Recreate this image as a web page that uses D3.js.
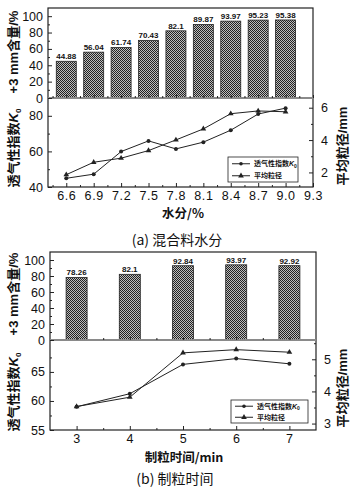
<!DOCTYPE html>
<html><head><meta charset="utf-8">
<script src="https://cdn.jsdelivr.net/npm/d3@7/dist/d3.min.js"></script>
<style>
html,body{margin:0;padding:0;background:#fff;}
svg{display:block;}
</style></head>
<body>
<svg id="c" width="359" height="488"></svg>
<script>
// ---- data ----
const moisture = [6.6, 6.9, 7.2, 7.5, 7.8, 8.1, 8.4, 8.7, 9.0];
const moistureContent = [44.88, 56.04, 61.74, 70.43, 82.1, 89.87, 93.97, 95.23, 95.38];
const moistureK = [44.9, 47.2, 59.9, 65.9, 61.4, 65.2, 71.9, 81.0, 84.3];
const moistureSize = [1.86, 2.63, 2.88, 3.35, 4.01, 4.69, 5.63, 5.80, 5.75];

const granTime = [3, 4, 5, 6, 7];
const timeContent = [78.26, 82.1, 92.84, 93.97, 92.92];
const timeK = [59.0, 61.25, 66.3, 67.3, 66.4];
const timeSize = [3.53, 3.82, 5.2, 5.3, 5.22];

const moistureTicks = [6.6, 6.9, 7.2, 7.5, 7.8, 8.1, 8.4, 8.7, 9.0, 9.3];
const timeTicks = [3, 4, 5, 6, 7];
const contentTicks = [0, 20, 40, 60, 80, 100];

const svg = d3.select("#c");
const CJK = "'Noto Sans CJK SC', sans-serif";
const LAT = "'Liberation Sans', Arial, sans-serif";

// hatch pattern
const defs = svg.append("defs");
const pat = defs.append("pattern").attr("id","hatch").attr("patternUnits","userSpaceOnUse")
  .attr("width",2).attr("height",2);
pat.append("rect").attr("width",2).attr("height",2).attr("fill","#bdbdbd");
pat.append("rect").attr("x",0).attr("y",0).attr("width",1).attr("height",1).attr("fill","#222");
pat.append("rect").attr("x",1).attr("y",1).attr("width",1).attr("height",1).attr("fill","#222");

function styleAxis(g, size){
  g.selectAll("path.domain").remove();
  g.selectAll("line").attr("stroke","#222").attr("stroke-width",1);
  g.selectAll("text").attr("font-family",LAT).attr("font-size",size||12.5).attr("fill","#111");
}

function panel(o){
  const g = svg.append("g");
  const x = d3.scaleLinear().domain(o.xDomain).range([o.left, o.right]);
  const yb = d3.scaleLinear().domain([0,110]).range([o.mid, o.top]);
  const yl = d3.scaleLinear().domain(o.kDomain).range([o.bottom, o.mid]);
  const yr = d3.scaleLinear().domain(o.sDomain).range([o.bottom, o.mid]);

  // bars
  g.selectAll("rect.bar").data(o.xs).enter().append("rect")
    .attr("x", (d)=>x(d)-o.barW/2).attr("width",o.barW)
    .attr("y",(d,i)=>yb(o.content[i])).attr("height",(d,i)=>yb(0)-yb(o.content[i]))
    .attr("fill","url(#hatch)").attr("stroke","#222").attr("stroke-width",0.8);
  g.selectAll("text.bl").data(o.xs).enter().append("text")
    .attr("x",d=>x(d)).attr("y",(d,i)=>yb(o.content[i])-2)
    .attr("text-anchor","middle").attr("font-family",LAT).attr("font-size",8).attr("font-weight","bold")
    .attr("fill","#111").text((d,i)=>String(o.content[i]));

  // frame
  g.append("rect").attr("x",o.left).attr("y",o.top).attr("width",o.right-o.left).attr("height",o.bottom-o.top)
    .attr("fill","none").attr("stroke","#222").attr("stroke-width",1.2);
  g.append("line").attr("x1",o.left).attr("x2",o.right).attr("y1",o.mid).attr("y2",o.mid)
    .attr("stroke","#8a8a8a").attr("stroke-width",2);

  // bar y axis
  const a1 = g.append("g").attr("transform",`translate(${o.left},0)`)
    .call(d3.axisLeft(yb).tickValues(contentTicks).tickSize(-4).tickPadding(5));
  styleAxis(a1, 12.5);
  const a1m = g.append("g").attr("transform",`translate(${o.left},0)`)
    .call(d3.axisLeft(yb).tickValues([10,30,50,70,90]).tickSize(-2).tickFormat(""));
  styleAxis(a1m);

  // ticks at zero line
  const a0 = g.append("g").attr("transform",`translate(0,${o.mid})`)
    .call(d3.axisBottom(x).tickValues(o.xTicks).tickSize(-3).tickFormat(""));
  styleAxis(a0);
  const a0m = g.append("g").attr("transform",`translate(0,${o.mid})`)
    .call(d3.axisBottom(x).tickValues(o.xMinor).tickSize(-2).tickFormat(""));
  styleAxis(a0m);

  // lower axes
  const ax = g.append("g").attr("transform",`translate(0,${o.bottom})`)
    .call(d3.axisBottom(x).tickValues(o.xTicks).tickSize(-4).tickPadding(4).tickFormat(o.xFmt));
  styleAxis(ax, 12.5);
  ax.selectAll("text").attr("letter-spacing",0.6);
  const axm = g.append("g").attr("transform",`translate(0,${o.bottom})`)
    .call(d3.axisBottom(x).tickValues(o.xMinor).tickSize(-2).tickFormat(""));
  styleAxis(axm);

  const al = g.append("g").attr("transform",`translate(${o.left},0)`)
    .call(d3.axisLeft(yl).tickValues(o.kTicks).tickSize(-4).tickPadding(5));
  styleAxis(al, 12.5);
  const alm = g.append("g").attr("transform",`translate(${o.left},0)`)
    .call(d3.axisLeft(yl).tickValues(o.kMinor).tickSize(-2).tickFormat(""));
  styleAxis(alm);

  const ar = g.append("g").attr("transform",`translate(${o.right},0)`)
    .call(d3.axisRight(yr).tickValues(o.sTicks).tickSize(-4).tickPadding(8).tickFormat(d3.format("d")));
  styleAxis(ar, 12.5);
  const arm = g.append("g").attr("transform",`translate(${o.right},0)`)
    .call(d3.axisRight(yr).tickValues(o.sMinor).tickSize(-2).tickFormat(""));
  styleAxis(arm);

  // lines
  const lk = d3.line().x((d,i)=>x(o.xs[i])).y(d=>yl(d));
  const ls = d3.line().x((d,i)=>x(o.xs[i])).y(d=>yr(d));
  g.append("path").attr("d",lk(o.k)).attr("fill","none").attr("stroke","#222").attr("stroke-width",1);
  g.append("path").attr("d",ls(o.size)).attr("fill","none").attr("stroke","#222").attr("stroke-width",1);
  g.selectAll("circle.k").data(o.k).enter().append("circle")
    .attr("cx",(d,i)=>x(o.xs[i])).attr("cy",d=>yl(d)).attr("r",2).attr("fill","#222");
  const tri = d3.symbol().type(d3.symbolTriangle).size(14);
  g.selectAll("path.s").data(o.size).enter().append("path")
    .attr("d",tri).attr("transform",(d,i)=>`translate(${x(o.xs[i])},${yr(d)})`).attr("fill","#222");

  // legend
  const L = o.legend;
  g.append("rect").attr("x",L.x).attr("y",L.y).attr("width",L.w).attr("height",L.h)
    .attr("fill","#fff").attr("stroke","#222").attr("stroke-width",0.8);
  const r1 = L.y + L.h*0.27, r2 = L.y + L.h*0.75;
  g.append("line").attr("x1",L.x+4).attr("x2",L.x+22).attr("y1",r1).attr("y2",r1).attr("stroke","#222");
  g.append("circle").attr("cx",L.x+13).attr("cy",r1).attr("r",1.8).attr("fill","#222");
  g.append("line").attr("x1",L.x+4).attr("x2",L.x+22).attr("y1",r2).attr("y2",r2).attr("stroke","#222");
  g.append("path").attr("d",tri).attr("transform",`translate(${L.x+13},${r2})`).attr("fill","#222");
  const t1 = g.append("text").attr("x",L.x+26).attr("y",r1+2.5).attr("font-family",CJK)
    .attr("font-size",7).attr("font-weight","bold").attr("fill","#111").text("透气性指数");
  t1.append("tspan").attr("font-style","italic").attr("font-family",LAT).text("K");
  t1.append("tspan").attr("font-size",5).attr("dy",1.5).attr("font-family",LAT).text("0");
  g.append("text").attr("x",L.x+26).attr("y",r2+2.5).attr("font-family",CJK)
    .attr("font-size",7).attr("font-weight","bold").attr("fill","#111").text("平均粒径");

  // axis titles
  function vtext(xx, yy, parts){
    const t = g.append("text").attr("transform",`translate(${xx},${yy}) rotate(-90)`)
      .attr("text-anchor","middle").attr("font-family",CJK).attr("font-size",13)
      .attr("font-weight","bold").attr("fill","#111");
    parts.forEach(p=>{
      const s = t.append("tspan").text(p.t);
      if(p.f) s.attr("font-family",p.f);
      if(p.it) s.attr("font-style","italic");
      if(p.sz) s.attr("font-size",p.sz);
      if(p.dy) s.attr("dy",p.dy);
    });
  }
  vtext(18, o.barLabelY, [{t:"+3 mm",f:LAT},{t:"含量"},{t:"/%",f:LAT}]);
  vtext(18, o.kLabelY, [{t:"透气性指数"},{t:"K",f:LAT,it:1},{t:"0",f:LAT,sz:8,dy:3}]);
  vtext(347, o.sLabelY, [{t:"平均粒径"},{t:"/mm",f:LAT}]);
  g.append("text").attr("x",o.xLabelX).attr("y",o.xLabelY).attr("text-anchor","middle")
    .attr("font-family",CJK).attr("font-size",12.5).attr("font-weight","bold").attr("fill","#111")
    .text(o.xLabel);
  g.append("text").attr("x",o.capX).attr("y",o.capY).attr("text-anchor","middle")
    .attr("font-family",CJK).attr("font-size",14).attr("fill","#111")
    .text(o.caption);
}

panel({
  left:48, right:313, top:8, mid:98, bottom:187,
  xDomain:[6.4,9.3], xs:moisture, content:moistureContent, k:moistureK, size:moistureSize,
  xTicks:moistureTicks, xMinor:[6.45,6.75,7.05,7.35,7.65,7.95,8.25,8.55,8.85,9.15], xFmt:d3.format(".1f"),
  barW:20,
  kDomain:[40,90], kTicks:[40,60,80], kMinor:[50,70],
  sDomain:[1.1,6.6], sTicks:[2,4,6], sMinor:[3,5],
  legend:{x:228,y:157,w:70,h:25},
  barLabelY:52, kLabelY:148, sLabelY:146,
  xLabel:"水分/%", xLabelX:183, xLabelY:218,
  caption:"(a) 混合料水分", capX:177, capY:245
});
panel({
  left:50, right:316, top:252, mid:340, bottom:430,
  xDomain:[2.5,7.5], xs:granTime, content:timeContent, k:timeK, size:timeSize,
  xTicks:timeTicks, xMinor:[3.5,4.5,5.5,6.5], xFmt:d3.format("d"),
  barW:21,
  kDomain:[55,70.5], kTicks:[55,60,65], kMinor:[57.5,62.5,67.5],
  sDomain:[2.8,5.6], sTicks:[3,4,5], sMinor:[3.5,4.5,5.5],
  legend:{x:231,y:400,w:77,h:23},
  barLabelY:294, kLabelY:392, sLabelY:388,
  xLabel:"制粒时间/min", xLabelX:184, xLabelY:462,
  caption:"(b) 制粒时间", capX:175, capY:484
});
</script>
</body></html>
